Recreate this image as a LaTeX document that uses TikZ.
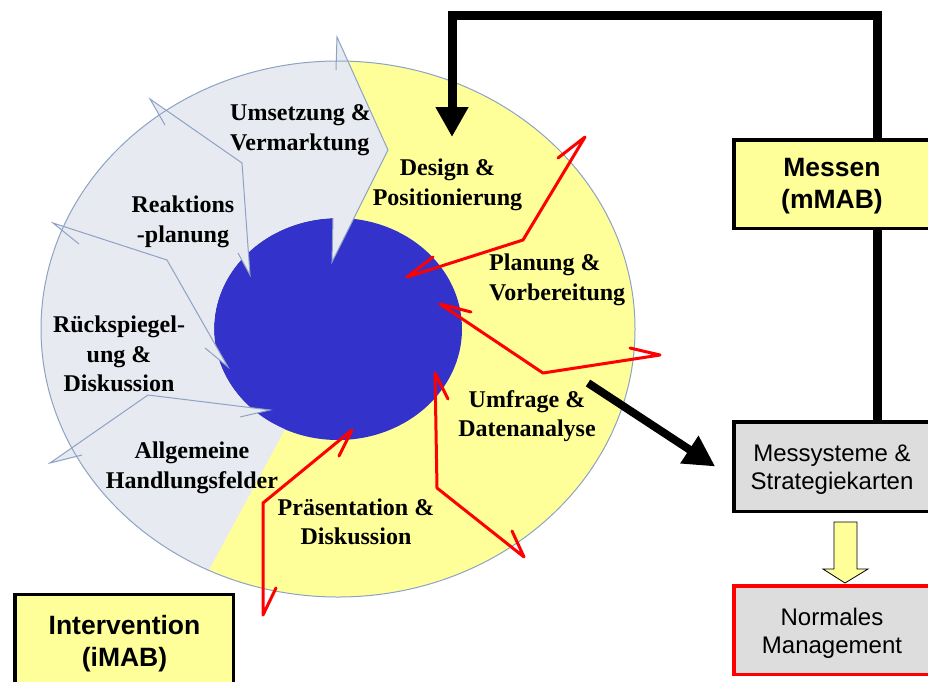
\documentclass[tikz,border=0pt]{standalone}
\usepackage{fontspec}
\setmainfont{Liberation Serif}
\setsansfont{Liberation Sans}
\usetikzlibrary{arrows.meta}
\definecolor{ylw}{HTML}{FFFF99}
\definecolor{gry}{HTML}{E7EAF0}
\definecolor{olc}{HTML}{8EA2C6}
\definecolor{blu}{HTML}{3333CC}
\definecolor{boxg}{HTML}{DDDDDD}
\begin{document}
\begin{tikzpicture}[x=1pt,y=-1pt,
  lbl/.style={font=\bfseries\fontsize{24}{29.5}\selectfont, align=center, inner sep=0pt},
  boxstyle/.style={draw=black, line width=3.5pt, inner sep=0pt, minimum width=198pt, minimum height=88.5pt},
  boldtxt/.style={font=\sffamily\bfseries\fontsize{26.5}{32}\selectfont, align=center, inner sep=0pt},
  plaintxt/.style={font=\sffamily\fontsize{24}{28.5}\selectfont, align=center, inner sep=0pt},
  ol/.style={draw=olc, line width=1pt, line join=miter},
  redl/.style={draw=red, line width=3pt, line join=round, line cap=round},
  blk/.style={draw=black, line width=9pt}
]
\useasboundingbox (0,0) rectangle (928,681);
\fill[white] (0,0) rectangle (928,681);

% ring
\fill[ylw] (338,329) ellipse [x radius=297pt, y radius=268pt];
\fill[blu] (338,329) ellipse [x radius=124pt, y radius=111pt];

% gray part of the ring
\fill[gry] (283,433) -- (210,568)
  -- plot[domain=115.8:269.6, samples=80] ({338+297*cos(\x)},{329+268*sin(\x)})
  -- (337,37) -- (388,150) -- (332,262) -- (333,218)
  -- plot[domain=268:115.4, samples=60] ({338+124*cos(\x)},{329+111*sin(\x)})
  -- cycle;
\fill[gry] (82,455) -- (50,463) -- (148,395) -- (270,410) -- (240,417) -- cycle;
\fill[gry] (79,244) -- (53,223) -- (167,260) -- (228,367) -- (205,348) -- cycle;
\fill[gry] (165,125) -- (150,99) -- (242,163) -- (250,275) -- (238,253) -- cycle;

\draw[ol] (338,329) ellipse [x radius=297pt, y radius=268pt];
\draw[ol] (82,455) -- (50,463) -- (148,395) -- (270,410) -- (240,417);
\draw[ol] (79,244) -- (53,223) -- (167,260) -- (228,367) -- (205,348);
\draw[ol] (165,125) -- (150,99) -- (242,163) -- (250,275) -- (238,253);
\draw[ol] (336,70) -- (337,37) -- (388,150) -- (332,262) -- (333,218);

% red arrow outlines
\draw[redl] (558,158) -- (585,137) -- (523,240) -- (407,277) -- (433,257);
\draw[redl] (471,312) -- (440,304) -- (543,373) -- (660,355) -- (630,348);
\draw[redl] (448,399) -- (435,373) -- (437,488) -- (524,557) -- (512,531);
\draw[redl] (339,456) -- (352,430) -- (263,503) -- (263,615) -- (276,588);

% labels in the ring
\node[lbl, anchor=west, align=left] (umsetz) at (230,130) {Umsetzung \&\\Vermarktung};
\node[lbl] (reakt) at (183,222) {Reaktions\\-planung};
\node[lbl] (rueck) at (119,354) {Rückspiegel-\\ung \&\\Diskussion};
\node[lbl] (allg) at (192,468) {Allgemeine\\Handlungsfelder};
\node[lbl] (praes) at (356,522) {Präsentation \&\\Diskussion};
\node[lbl] (umfr) at (527,416) {Umfrage \&\\Datenanalyse};
\node[lbl, anchor=west, align=left] (plan) at (489,280) {Planung \&\\Vorbereitung};
\node[lbl] (design) at (447.5,185) {Design \&\\Positionierung};

% boxes
\node[boxstyle, fill=ylw] (messen) at (833,184) {};
\node[boldtxt] (messenT) at (832,186.5) {Messen\\(mMAB)};
\node[boxstyle, fill=boxg, minimum height=89.5pt] (messsys) at (833,466.5) {};
\node[plaintxt] (messsysT) at (832,469.5) {Messysteme \&\\Strategiekarten};
\node[boxstyle, fill=boxg, draw=red] (normal) at (833,630) {};
\node[plaintxt] (normalT) at (832,633.5) {Normales\\Management};
\node[boxstyle, fill=ylw, minimum width=218.5pt, minimum height=93pt] (interv) at (124,641) {};
\node[boldtxt] (intervT) at (124.5,643.5) {Intervention\\(iMAB)};

% connectors
\coordinate (topR) at (877,15);
\coordinate (topL) at (452,15);
\coordinate (downtip) at (452,137);
\draw[blk, line join=miter, -{Triangle[length=30pt,width=31pt]}] (messen.north -| topR) -- (topR) -- (topL) -- (downtip);
\draw[blk] (messen.south -| topR) -- (messsys.north -| topR);
\coordinate (umstart) at (588,383);
\draw[draw=black, line width=8pt, -{Triangle[length=31pt,width=31pt]}] (umstart) -- ([xshift=-17pt]messsys.west);

% block arrow
\draw[fill=ylw, draw=black, line width=0.8pt, line join=miter]
  (834,522) -- (857,522) -- (857,569) -- (868,569) -- (845,583) -- (823,569) -- (834,569) -- cycle;
\end{tikzpicture}
\end{document}
